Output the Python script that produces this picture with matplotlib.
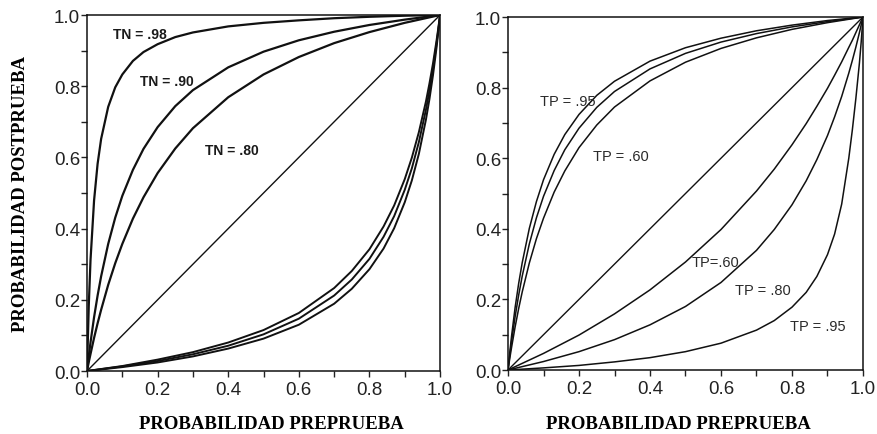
import matplotlib

matplotlib.use("Agg")
import matplotlib.pyplot as plt
from matplotlib.ticker import MultipleLocator

# probabilidad preprueba: malla densa cerca de 0 (curvas que suben) y cerca de 1 (curvas que bajan)
pre_up = [0, 0.005, 0.01, 0.02, 0.03, 0.04, 0.06, 0.08, 0.1, 0.13, 0.16, 0.2, 0.25, 0.3,
          0.4, 0.5, 0.6, 0.7, 0.8, 0.9, 1.0]
pre_down = [0, 0.1, 0.2, 0.3, 0.4, 0.5, 0.6, 0.7, 0.75, 0.8, 0.84, 0.87, 0.9, 0.92, 0.94,
            0.96, 0.97, 0.98, 0.99, 0.995, 1.0]
diagonal = [0.0, 1.0]

# panel izquierdo: prueba positiva (arriba) y negativa (abajo) para distintos TN
tn98_pos = [0, 0.184, 0.313, 0.479, 0.582, 0.652, 0.742, 0.797, 0.833, 0.871, 0.896, 0.918,
            0.938, 0.951, 0.968, 0.978, 0.985, 0.991, 0.995, 0.998, 1.0]
tn90_pos = [0, 0.042, 0.081, 0.151, 0.212, 0.266, 0.357, 0.431, 0.492, 0.565, 0.624, 0.685,
            0.744, 0.789, 0.853, 0.897, 0.929, 0.953, 0.972, 0.987, 1.0]
tn80_pos = [0, 0.025, 0.048, 0.093, 0.134, 0.172, 0.242, 0.303, 0.357, 0.428, 0.488, 0.556,
            0.625, 0.682, 0.769, 0.833, 0.882, 0.921, 0.952, 0.978, 1.0]
tn98_neg = [0, 0.011, 0.024, 0.041, 0.063, 0.091, 0.130, 0.189, 0.231, 0.286, 0.344, 0.401,
            0.474, 0.535, 0.610, 0.706, 0.764, 0.831, 0.908, 0.952, 1.0]
tn90_neg = [0, 0.013, 0.028, 0.047, 0.071, 0.103, 0.147, 0.212, 0.257, 0.315, 0.377, 0.435,
            0.509, 0.569, 0.643, 0.734, 0.788, 0.849, 0.919, 0.958, 1.0]
tn80_neg = [0, 0.014, 0.032, 0.053, 0.080, 0.115, 0.163, 0.233, 0.281, 0.342, 0.406, 0.465,
            0.539, 0.599, 0.671, 0.757, 0.808, 0.864, 0.928, 0.963, 1.0]

# panel derecho: prueba positiva (arriba) y negativa (abajo) para distintos TP
tp95_pos = [0, 0.050, 0.096, 0.177, 0.245, 0.304, 0.401, 0.477, 0.539, 0.611, 0.667, 0.724,
            0.778, 0.818, 0.875, 0.913, 0.940, 0.961, 0.977, 0.990, 1.0]
tp80_pos = [0, 0.042, 0.081, 0.151, 0.212, 0.266, 0.357, 0.431, 0.492, 0.565, 0.624, 0.685,
            0.744, 0.789, 0.853, 0.897, 0.929, 0.953, 0.972, 0.987, 1.0]
tp60_pos = [0, 0.033, 0.064, 0.122, 0.174, 0.221, 0.303, 0.372, 0.430, 0.504, 0.564, 0.630,
            0.694, 0.745, 0.819, 0.872, 0.911, 0.941, 0.965, 0.984, 1.0]
tp60_neg = [0, 0.047, 0.099, 0.159, 0.227, 0.306, 0.398, 0.507, 0.569, 0.638, 0.698, 0.747,
            0.798, 0.835, 0.873, 0.914, 0.934, 0.956, 0.978, 0.989, 1.0]
tp80_neg = [0, 0.024, 0.052, 0.086, 0.128, 0.180, 0.248, 0.339, 0.398, 0.468, 0.536, 0.596,
            0.664, 0.717, 0.775, 0.841, 0.877, 0.915, 0.956, 0.978, 1.0]
tp95_neg = [0, 0.006, 0.013, 0.023, 0.035, 0.052, 0.076, 0.113, 0.140, 0.178, 0.220, 0.265,
            0.327, 0.385, 0.470, 0.600, 0.680, 0.770, 0.870, 0.930, 1.0]

left_labels = ["TN = .98", "TN = .90", "TN = .80"]
left_label_xy = [(0.074, 0.947), (0.150, 0.815), (0.334, 0.622)]
right_labels = ["TP = .95", "TP = .60", "TP=.60", "TP = .80", "TP = .95"]
right_label_xy = [(0.090, 0.762), (0.240, 0.606), (0.517, 0.305), (0.639, 0.227), (0.794, 0.124)]

TICK_FONT = "Liberation Sans"
AXIS_FONT = "Liberation Serif"


def style_axes(ax):
    ax.set_xlim(0, 1)
    ax.set_ylim(0, 1)
    ax.xaxis.set_major_locator(MultipleLocator(0.2))
    ax.xaxis.set_minor_locator(MultipleLocator(0.1))
    ax.yaxis.set_major_locator(MultipleLocator(0.2))
    ax.yaxis.set_minor_locator(MultipleLocator(0.1))
    ax.xaxis.set_major_formatter(lambda v, _: f"{v:.1f}")
    ax.yaxis.set_major_formatter(lambda v, _: f"{v:.1f}")
    ax.tick_params(which="both", direction="out", length=4, width=1, color="#222222")
    ax.tick_params(axis="x", pad=3)
    ax.tick_params(axis="y", pad=1)
    for label in ax.get_xticklabels() + ax.get_yticklabels():
        label.set_fontfamily(TICK_FONT)
        label.set_fontsize(13.5)
        label.set_color("#222222")
    for spine in ax.spines.values():
        spine.set_linewidth(1.1)
        spine.set_color("#111111")


fig = plt.figure(figsize=(8.78, 4.35), dpi=100)

ax_left = fig.add_axes([0.0991, 0.1448, 0.4021, 0.8184])
ax_left.plot(diagonal, diagonal, color="#111111", linewidth=1.0)
for curve in [tn98_pos, tn90_pos, tn80_pos]:
    ax_left.plot(pre_up, curve, color="#111111", linewidth=1.6)
for curve in [tn98_neg, tn90_neg, tn80_neg]:
    ax_left.plot(pre_down, curve, color="#111111", linewidth=1.4)
for text, (x, y) in zip(left_labels, left_label_xy):
    ax_left.text(x, y, text, fontsize=10, fontweight="bold", family=TICK_FONT,
                 color="#1a1a1a", va="center", ha="left")
style_axes(ax_left)

ax_right = fig.add_axes([0.5786, 0.1471, 0.4043, 0.8115])
ax_right.plot(diagonal, diagonal, color="#111111", linewidth=1.0)
for curve in [tp95_pos, tp80_pos, tp60_pos]:
    ax_right.plot(pre_up, curve, color="#111111", linewidth=1.1)
for curve in [tp60_neg, tp80_neg, tp95_neg]:
    ax_right.plot(pre_down, curve, color="#111111", linewidth=1.1)
for text, (x, y) in zip(right_labels, right_label_xy):
    ax_right.text(x, y, text, fontsize=10.5, family=TICK_FONT, color="#2a2a2a",
                  va="center", ha="left")
style_axes(ax_right)

fig.text(0.3092, 0.023, "PROBABILIDAD PREPRUEBA", family=AXIS_FONT, fontweight="bold",
         fontsize=13.5, ha="center", va="center")
fig.text(0.7722, 0.023, "PROBABILIDAD PREPRUEBA", family=AXIS_FONT, fontweight="bold",
         fontsize=13.5, ha="center", va="center")
fig.text(0.0228, 0.554, "PROBABILIDAD POSTPRUEBA", family=AXIS_FONT, fontweight="bold",
         fontsize=13.5, ha="center", va="center", rotation=90)

fig.savefig("out.png", dpi=100)
plt.close(fig)
